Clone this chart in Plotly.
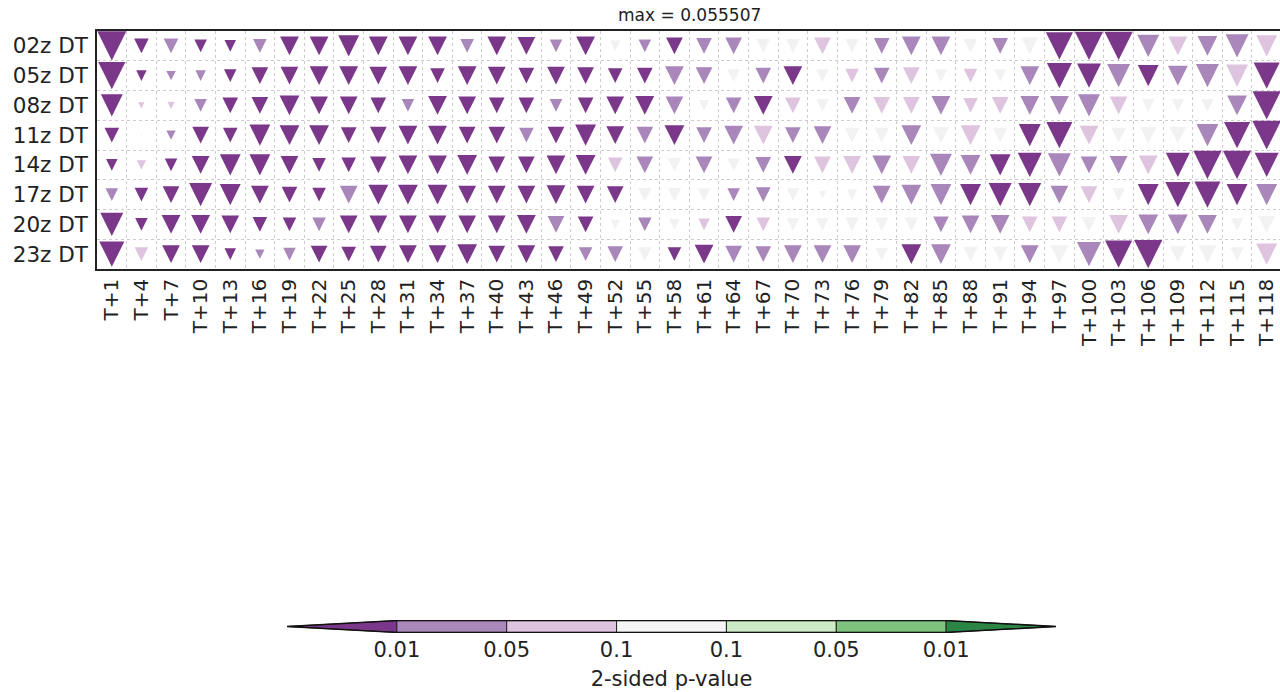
import plotly.graph_objects as go

# ---------------- data ----------------
rows = ["02z DT", "05z DT", "08z DT", "11z DT", "14z DT", "17z DT", "20z DT", "23z DT"]
leads = ["T+1", "T+4", "T+7", "T+10", "T+13", "T+16", "T+19", "T+22", "T+25", "T+28",
         "T+31", "T+34", "T+37", "T+40", "T+43", "T+46", "T+49", "T+52", "T+55", "T+58",
         "T+61", "T+64", "T+67", "T+70", "T+73", "T+76", "T+79", "T+82", "T+85", "T+88",
         "T+91", "T+94", "T+97", "T+100", "T+103", "T+106", "T+109", "T+112", "T+115", "T+118"]

# magnitude of the difference (x 1e-3), one list per init time
mag_02z = [55.507, 28, 28, 24, 22, 26, 36, 36, 40, 36, 36, 36, 26, 36, 34, 24, 36, 20, 24, 32,
           30, 32, 26, 26, 32, 26, 30, 36, 36, 26, 30, 32, 52, 54, 54, 42, 36, 38, 44, 40]
mag_05z = [52, 20, 18, 20, 24, 32, 34, 36, 36, 34, 36, 28, 36, 34, 30, 34, 32, 28, 30, 36,
           32, 24, 30, 36, 24, 26, 30, 32, 24, 26, 24, 36, 48, 46, 44, 40, 38, 44, 42, 50]
mag_08z = [42, 12, 14, 24, 30, 32, 38, 34, 34, 30, 24, 36, 34, 30, 30, 24, 30, 34, 36, 34,
           20, 30, 36, 30, 24, 32, 32, 32, 36, 28, 32, 36, 36, 42, 34, 24, 24, 24, 38, 54]
mag_11z = [28, 4, 18, 32, 28, 40, 38, 38, 30, 32, 36, 36, 32, 32, 28, 32, 40, 34, 32, 38,
           30, 36, 36, 30, 34, 28, 28, 38, 30, 38, 28, 42, 50, 36, 28, 32, 32, 42, 50, 55]
mag_14z = [22, 18, 24, 34, 40, 40, 34, 26, 28, 32, 36, 36, 38, 32, 32, 36, 38, 28, 32, 26,
           32, 24, 30, 34, 32, 34, 36, 34, 42, 38, 40, 46, 44, 32, 34, 36, 46, 54, 54, 46]
mag_17z = [24, 26, 32, 44, 40, 34, 30, 26, 34, 38, 38, 38, 34, 34, 34, 36, 34, 32, 26, 26,
           24, 24, 28, 24, 14, 20, 34, 38, 40, 40, 44, 44, 34, 32, 24, 40, 48, 50, 40, 40]
mag_20z = [44, 24, 36, 36, 34, 28, 26, 26, 34, 34, 34, 34, 34, 34, 36, 32, 30, 18, 26, 20,
           22, 32, 26, 24, 24, 26, 26, 26, 30, 34, 36, 30, 30, 28, 36, 38, 38, 36, 24, 32]
mag_23z = [48, 26, 34, 34, 22, 18, 24, 32, 28, 32, 34, 34, 38, 32, 34, 30, 26, 30, 26, 26,
           36, 32, 30, 34, 34, 34, 24, 38, 38, 28, 28, 34, 34, 46, 52, 54, 30, 34, 26, 40]

# significance class: 3 = p<0.01, 2 = p<0.05, 1 = p<0.1, 0 = not significant
sig_02z = [3, 3, 2, 3, 3, 2, 3, 3, 3, 3, 3, 3, 2, 3, 3, 2, 3, 0, 2, 3,
           2, 2, 0, 0, 1, 0, 2, 2, 2, 0, 2, 0, 3, 3, 3, 2, 1, 2, 2, 1]
sig_05z = [3, 3, 2, 2, 3, 3, 3, 3, 3, 3, 3, 3, 3, 3, 3, 3, 3, 3, 3, 2,
           2, 0, 2, 3, 0, 1, 2, 1, 0, 1, 0, 2, 3, 3, 2, 3, 2, 2, 1, 3]
sig_08z = [3, 1, 1, 2, 3, 3, 3, 3, 3, 3, 2, 3, 3, 3, 3, 2, 3, 3, 3, 2,
           0, 2, 3, 1, 0, 2, 1, 1, 2, 1, 1, 2, 2, 2, 1, 0, 0, 0, 2, 3]
sig_11z = [3, 0, 2, 3, 3, 3, 3, 3, 3, 3, 3, 3, 3, 3, 2, 3, 3, 3, 2, 3,
           2, 2, 1, 2, 2, 0, 0, 2, 0, 1, 0, 3, 3, 1, 0, 0, 0, 2, 3, 3]
sig_14z = [3, 1, 3, 3, 3, 3, 3, 3, 3, 3, 3, 3, 3, 3, 3, 3, 3, 1, 2, 0,
           2, 0, 2, 3, 1, 1, 2, 1, 2, 2, 3, 3, 2, 2, 2, 1, 3, 3, 3, 3]
sig_17z = [2, 3, 3, 3, 3, 3, 3, 3, 2, 3, 3, 3, 3, 3, 3, 3, 3, 3, 0, 0,
           0, 2, 2, 0, 0, 0, 2, 2, 2, 3, 3, 3, 2, 1, 0, 3, 3, 3, 3, 2]
sig_20z = [3, 3, 3, 3, 3, 3, 3, 2, 3, 3, 3, 3, 3, 3, 3, 2, 3, 0, 2, 0,
           1, 3, 1, 0, 0, 0, 0, 0, 2, 2, 2, 1, 1, 0, 1, 2, 2, 2, 0, 0]
sig_23z = [3, 1, 3, 3, 3, 2, 2, 3, 3, 3, 3, 3, 3, 3, 3, 3, 2, 2, 0, 3,
           3, 2, 2, 2, 2, 2, 0, 3, 2, 0, 0, 2, 0, 2, 3, 3, 0, 0, 0, 1]

cbar_labels = ["0.01", "0.05", "0.1", "0.1", "0.05", "0.01"]
cbar_title = "2-sided p-value"

# ---------------- styling ----------------
purple = {3: "#7b378a", 2: "#a987bb", 1: "#dfc4df", 0: "#f2f2f2"}
cbar_colors = ["#7b378a", "#a987bb", "#dfc4df", "#f5f5f5", "#cdeac6", "#80c37f", "#2b8545"]
FONT = "DejaVu Sans"
MAX_W = 0.98           # width (in cells) of the largest triangle

mags = [mag_02z, mag_05z, mag_08z, mag_11z, mag_14z, mag_17z, mag_20z, mag_23z]
sigs = [sig_02z, sig_05z, sig_08z, sig_11z, sig_14z, sig_17z, sig_20z, sig_23z]
vmax = max(max(m) for m in mags) / 1000.0

fig = go.Figure()

# triangles, one trace per significance class
for cls in [0, 1, 2, 3]:
    xs, ys = [], []
    for r, (mrow, srow) in enumerate(zip(mags, sigs)):
        for c, (m, s) in enumerate(zip(mrow, srow)):
            if s != cls:
                continue
            w = (m / 1000.0) / vmax * MAX_W
            hw = w / 2.0
            xs += [c - hw, c + hw, c, c - hw, None]
            ys += [r - hw, r - hw, r + hw, r - hw, None]
    fig.add_trace(go.Scatter(x=xs, y=ys, mode="lines", fill="toself",
                             fillcolor=purple[cls], line=dict(width=0, color=purple[cls]),
                             hoverinfo="skip", showlegend=False, xaxis="x", yaxis="y",
                             cliponaxis=True))

# colour bar (extended both ends)
n = len(cbar_colors)
for i, col in enumerate(cbar_colors):
    if i == 0:
        px, py = [1, 0, 1, 1], [0, 0.5, 1, 0]
    elif i == n - 1:
        px, py = [i, i + 1, i, i], [0, 0.5, 1, 0]
    else:
        px, py = [i, i + 1, i + 1, i, i], [0, 0, 1, 1, 0]
    fig.add_trace(go.Scatter(x=px, y=py, mode="lines", fill="toself", fillcolor=col,
                             line=dict(width=1, color="#222"), hoverinfo="skip",
                             showlegend=False, xaxis="x2", yaxis="y2"))
fig.add_trace(go.Scatter(x=[0, 1, n - 1, n, n - 1, 1, 0], y=[0.5, 0, 0, 0.5, 1, 1, 0.5],
                         mode="lines", line=dict(width=1.5, color="#111"), hoverinfo="skip",
                         showlegend=False, xaxis="x2", yaxis="y2"))

H = 692
top, bot = 31, 269
pa_h = H - top
fig.update_layout(
    width=1280, height=H,
    margin=dict(l=97, r=0, t=top, b=0),
    paper_bgcolor="white", plot_bgcolor="white",
    font=dict(family=FONT, color="#222"),
    title=dict(text="max = %.6f" % vmax, x=0.501, xref="paper", y=1 - 15 / H,
               yanchor="middle", xanchor="center", font=dict(size=17, family=FONT)),
    xaxis=dict(range=[-0.5, 39.45], tickvals=list(range(len(leads))), ticktext=leads,
               tickangle=-90, tickfont=dict(size=20), showgrid=False, zeroline=False,
               showline=True, linecolor="#222", linewidth=1.5, mirror=True, ticks="",
               minor=dict(tickvals=[k + 0.5 for k in range(len(leads) - 1)], showgrid=True,
                          griddash="dot", gridcolor="#cccccc", gridwidth=1),
               anchor="y", fixedrange=True),
    yaxis=dict(range=[len(rows) - 0.5, -0.5], tickvals=list(range(len(rows))), ticktext=rows,
               tickfont=dict(size=21.5), showgrid=False, zeroline=False,
               showline=True, linecolor="#222", linewidth=1.5, mirror=False, ticks="",
               ticklabelstandoff=3,
               minor=dict(tickvals=[k + 0.5 for k in range(len(rows) - 1)], showgrid=True,
                          griddash="dot", gridcolor="#cccccc", gridwidth=1),
               domain=[(H - bot) / pa_h, 1], anchor="x", fixedrange=True),
    xaxis2=dict(domain=[(287 - 97) / 1183, (1056 - 97) / 1183], range=[0, n],
                tickvals=list(range(1, n)), ticktext=cbar_labels, tickfont=dict(size=21),
                ticks="", showgrid=False, zeroline=False, showline=False,
                ticklabelstandoff=2,
                title=dict(text=cbar_title, font=dict(size=21), standoff=10),
                anchor="y2", fixedrange=True),
    yaxis2=dict(domain=[(H - 633) / pa_h, (H - 620) / pa_h], range=[-0.05, 1.05],
                visible=False, anchor="x2", fixedrange=True),
)

fig.write_html("out.html", config={"displayModeBar": False},
               post_script="document.body.style.margin='0';")
